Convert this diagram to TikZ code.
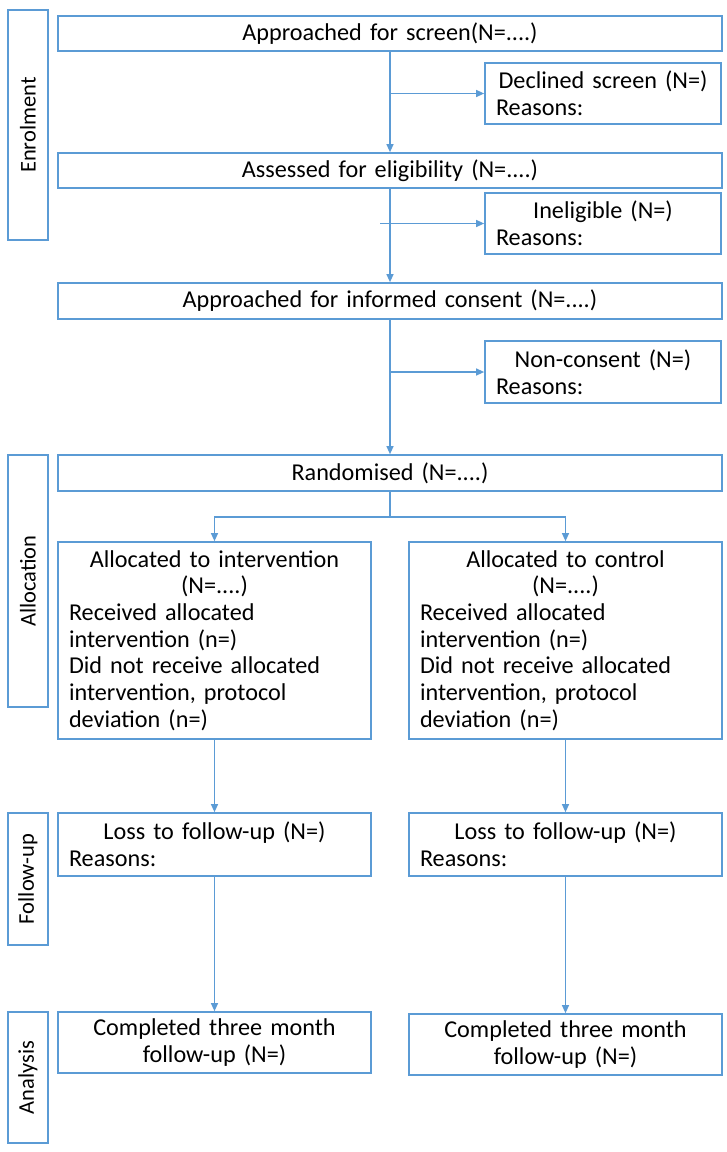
\documentclass[tikz,border=0pt]{standalone}
\usepackage{fontspec}
\setmainfont{Carlito}[WordSpace=0.75]
\usetikzlibrary{arrows.meta}
\definecolor{bl}{RGB}{91,155,213}
\begin{document}
\begin{tikzpicture}[x=1pt,y=-1pt,
 box/.style={draw=bl,line width=1.7pt,inner xsep=11pt,inner ysep=0pt,font=\fontsize{24.2}{26.7}\selectfont,align=left,anchor=center},
 cbox/.style={box,align=center},
 side/.style={draw=bl,line width=1.7pt,rotate=90,inner sep=0pt,font=\fontsize{22.5}{26}\selectfont,anchor=center},
 ln/.style={draw=bl,line width=1.2pt},
 arr/.style={ln,-{Triangle[length=8pt,width=7pt]}}]
\useasboundingbox (0,0) rectangle (727,1152);
% side labels
\node[side,minimum width=230,minimum height=40] (senr) at (28,125) {Enrolment};
\node[side,minimum width=252,minimum height=40] (salloc) at (28,581) {Allocation};
\node[side,minimum width=132,minimum height=40] (sfol) at (28,879) {Follow-up};
\node[side,minimum width=131,minimum height=40] (sana) at (28,1077.5) {Analysis};
% main column
\node[cbox,text width=642,minimum height=35] (b1) at (390,33.5) {Approached for screen(N=....)};
\node[box,text width=214,minimum height=61] (decl) at (603,93.5) {{\centering Declined screen (N=)\par}Reasons:};
\node[cbox,text width=642,minimum height=35] (b2) at (390,170.5) {Assessed for eligibility (N=....)};
\node[box,text width=214,minimum height=61] (inel) at (603,223.5) {{\centering Ineligible (N=)\par}Reasons:};
\node[cbox,text width=642,minimum height=36] (b3) at (390,301) {Approached for informed consent (N=....)};
\node[box,text width=214,minimum height=62] (ncons) at (603,372) {{\centering Non-consent (N=)\par}Reasons:};
\node[cbox,text width=642,minimum height=36] (rand) at (390,473) {Randomised (N=....)};
% two arms
\node[box,text width=291,minimum height=197] (alL) at (214.5,640.5) {{\centering Allocated to intervention\\(N=....)\par}Received allocated\\intervention (n=)\\Did not receive allocated\\intervention, protocol\\deviation (n=)};
\node[box,text width=291,minimum height=197] (alR) at (565.5,640.5) {{\centering Allocated to control\\(N=....)\par}Received allocated\\intervention (n=)\\Did not receive allocated\\intervention, protocol\\deviation (n=)};
\node[box,text width=291,minimum height=63] (fuL) at (214.5,844.5) {{\centering Loss to follow-up (N=)\par}Reasons:};
\node[box,text width=291,minimum height=63] (fuR) at (565.5,844.5) {{\centering Loss to follow-up (N=)\par}Reasons:};
\node[cbox,text width=291,minimum height=61] (anL) at (214.5,1042.5) {Completed three month\\follow-up (N=)};
\node[cbox,text width=291,minimum height=61] (anR) at (565.5,1044.5) {Completed three month\\follow-up (N=)};
% connectors
\draw[arr] (b1.south) -- (b2.north);
\draw[arr] (b1.south |- decl.west) -- (decl.west);
\draw[arr] (b2.south) -- (b3.north);
\coordinate (ie) at (380,223.5);
\draw[arr] (ie) -- (inel.west);
\draw[arr] (b3.south) -- (rand.north);
\draw[arr] (b3.south |- ncons.west) -- (ncons.west);
\coordinate (br) at (390,517);
\draw[ln] (rand.south) -- (br);
\draw[arr] (br) -| (alL.north);
\draw[arr] (br) -| (alR.north);
\draw[arr] (alL.south) -- (fuL.north);
\draw[arr] (alR.south) -- (fuR.north);
\draw[arr] (fuL.south) -- (anL.north);
\draw[arr] (fuR.south) -- (anR.north);
\end{tikzpicture}
\end{document}
